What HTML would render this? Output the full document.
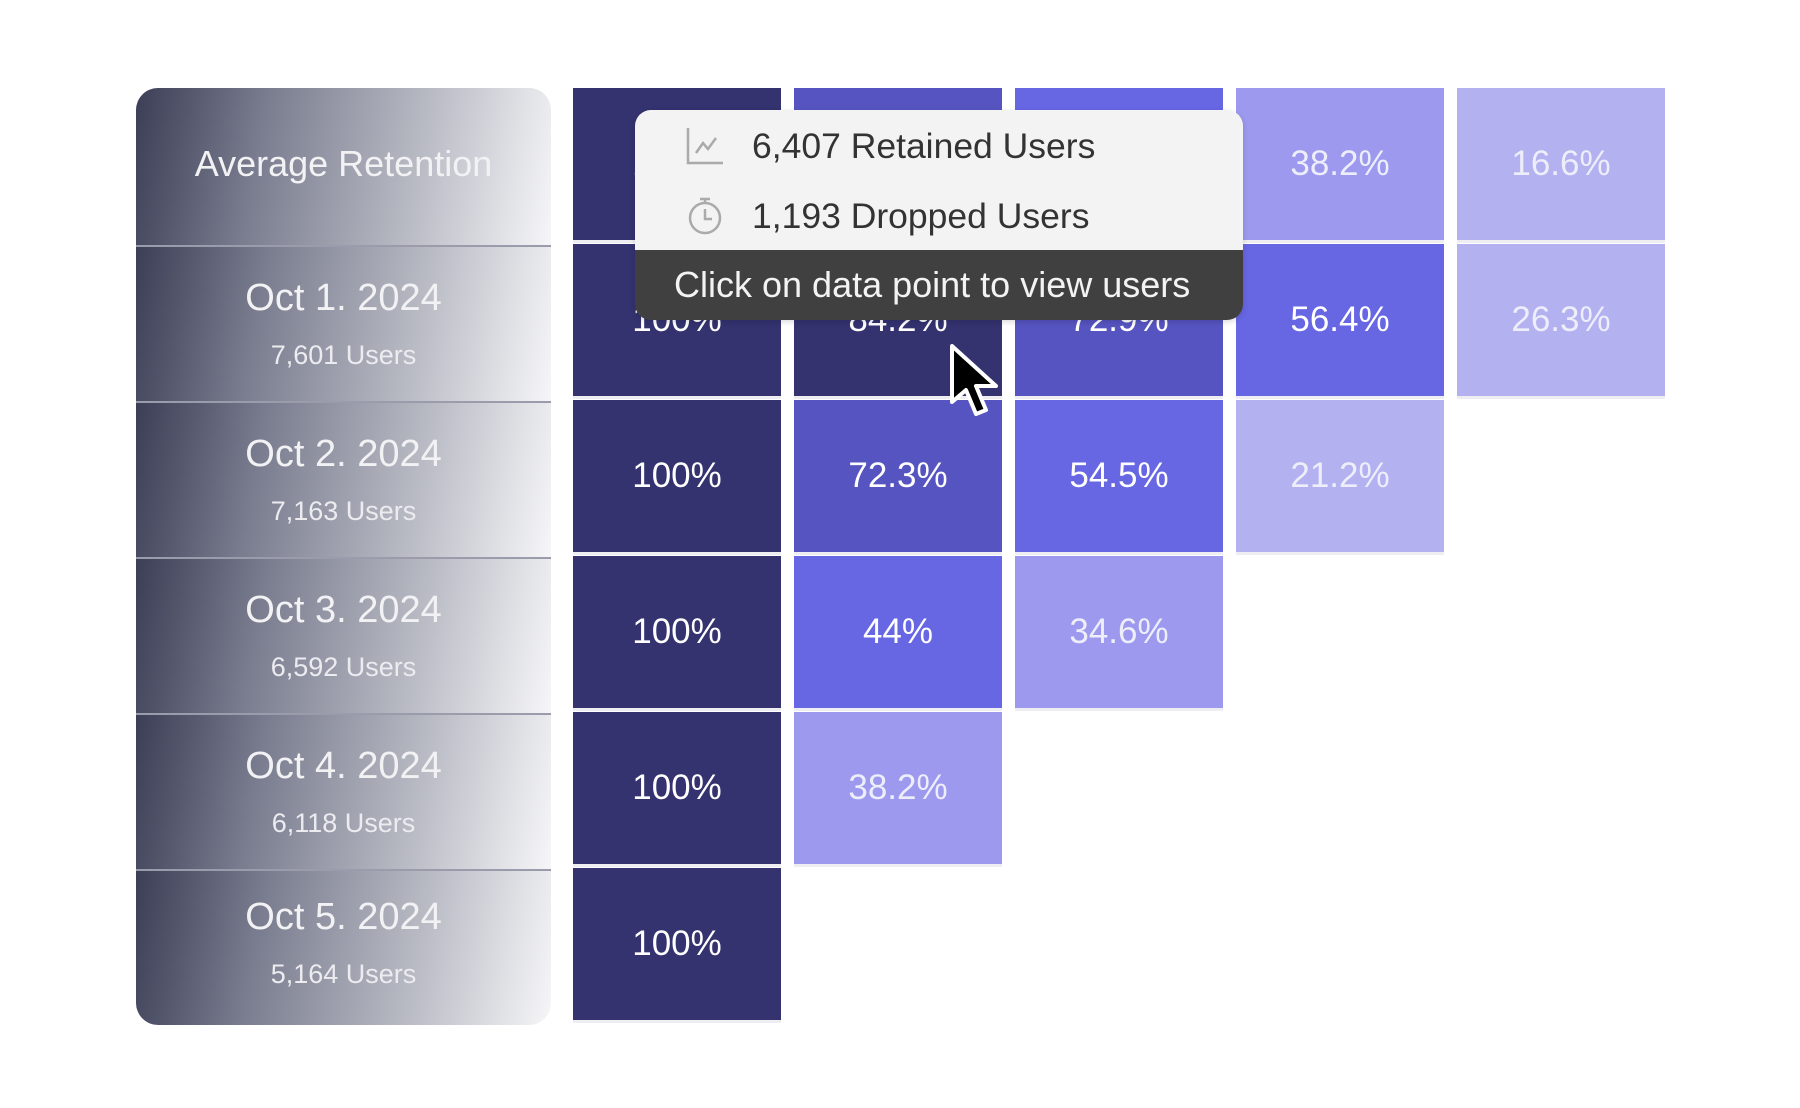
<!DOCTYPE html>
<html><head><meta charset="utf-8"><style>
*{margin:0;padding:0;box-sizing:border-box}
body{width:1800px;height:1108px;background:#fff;position:relative;overflow:hidden;font-family:"Liberation Sans","DejaVu Sans",sans-serif}
.panel{position:absolute;left:136px;top:88px;width:415px;height:937px;border-radius:22px;overflow:hidden}
.row{position:absolute;left:0;width:415px;background:linear-gradient(100deg,#3b3e55 0%,#7a7d8f 30%,#b5b7c1 65%,#f6f6f8 100%);border-top:2px solid #9a9cab;color:#f2f2f4;text-align:center}
.row .d{position:absolute;left:0;right:0;font-size:38px;line-height:40px}
.row .u{position:absolute;left:0;right:0;font-size:27px;line-height:30px;color:#ececf0}
.c{position:absolute;width:208px;height:152px;color:#fff;font-size:35px;display:flex;align-items:center;justify-content:center;box-shadow:0 3px 0 #eeeef2}
.k1{background:#34326f}.k2{background:#5654c0}.k3{background:#6766e3}.k4{background:#9c99ee;color:#eeeefa}.k5{background:#b3b1f0;color:#eeeefa}
.tip{position:absolute;left:635px;top:110px;width:608px;height:210px;border-radius:16px;overflow:hidden;box-shadow:0 2px 6px rgba(0,0,0,.15)}
.tip .top{position:absolute;left:0;top:0;width:100%;height:140px;background:#f3f3f3}
.tip .bot{position:absolute;left:0;top:140px;width:100%;height:70px;background:#404040;color:#f3f3f3;font-size:36px;line-height:70px;padding-left:39px}
.tip .t{position:absolute;left:117px;font-size:35.5px;color:#333}
</style></head><body>
<div class="panel">
<div class="row" style="top:0;height:157px;border-top:none"><div class="d" style="top:56px;font-size:36px">Average Retention</div></div>
<div class="row" style="top:157px;height:156px"><div class="d" style="top:31px">Oct 1. 2024</div><div class="u" style="top:93px">7,601 Users</div></div>
<div class="row" style="top:313px;height:156px"><div class="d" style="top:31px">Oct 2. 2024</div><div class="u" style="top:93px">7,163 Users</div></div>
<div class="row" style="top:469px;height:156px"><div class="d" style="top:31px">Oct 3. 2024</div><div class="u" style="top:93px">6,592 Users</div></div>
<div class="row" style="top:625px;height:156px"><div class="d" style="top:31px">Oct 4. 2024</div><div class="u" style="top:93px">6,118 Users</div></div>
<div class="row" style="top:781px;height:156px"><div class="d" style="top:26px">Oct 5. 2024</div><div class="u" style="top:88px">5,164 Users</div></div>
</div>

<div class="c k1" style="left:573px;top:88px">100%</div>
<div class="c k2" style="left:794px;top:88px">84.2%</div>
<div class="c k3" style="left:1015px;top:88px">72.9%</div>
<div class="c k4" style="left:1236px;top:88px">38.2%</div>
<div class="c k5" style="left:1457px;top:88px">16.6%</div>

<div class="c k1" style="left:573px;top:244px">100%</div>
<div class="c k1" style="left:794px;top:244px">84.2%</div>
<div class="c k2" style="left:1015px;top:244px">72.9%</div>
<div class="c k3" style="left:1236px;top:244px">56.4%</div>
<div class="c k5" style="left:1457px;top:244px">26.3%</div>

<div class="c k1" style="left:573px;top:400px">100%</div>
<div class="c k2" style="left:794px;top:400px">72.3%</div>
<div class="c k3" style="left:1015px;top:400px">54.5%</div>
<div class="c k5" style="left:1236px;top:400px">21.2%</div>

<div class="c k1" style="left:573px;top:556px">100%</div>
<div class="c k3" style="left:794px;top:556px">44%</div>
<div class="c k4" style="left:1015px;top:556px">34.6%</div>

<div class="c k1" style="left:573px;top:712px">100%</div>
<div class="c k4" style="left:794px;top:712px">38.2%</div>

<div class="c k1" style="left:573px;top:868px">100%</div>

<div class="tip">
<div class="top">
<svg style="position:absolute;left:50px;top:16px" width="40" height="40" viewBox="0 0 40 40" fill="none" stroke="#aaa" stroke-width="2.5"><path d="M3 2V37H38"/><path d="M11 27L18 17L23 23L31 12"/></svg>
<svg style="position:absolute;left:50px;top:86px" width="40" height="40" viewBox="0 0 40 40" fill="none" stroke="#aaa" stroke-width="2.5"><circle cx="20" cy="22" r="15"/><path d="M20 3V7M15 3H25M20 13V23H27"/></svg>
<div class="t" style="top:16px">6,407 Retained Users</div>
<div class="t" style="top:86px">1,193 Dropped Users</div>
</div>
<div class="bot">Click on data point to view users</div>
</div>

<svg style="position:absolute;left:948px;top:342px" width="60" height="80" viewBox="0 0 30 40"><path d="M2 2L2 30L9 24L14 36L19 34L14 22L24 22Z" fill="#000" stroke="#fff" stroke-width="2" stroke-linejoin="round"/></svg>
</body></html>
